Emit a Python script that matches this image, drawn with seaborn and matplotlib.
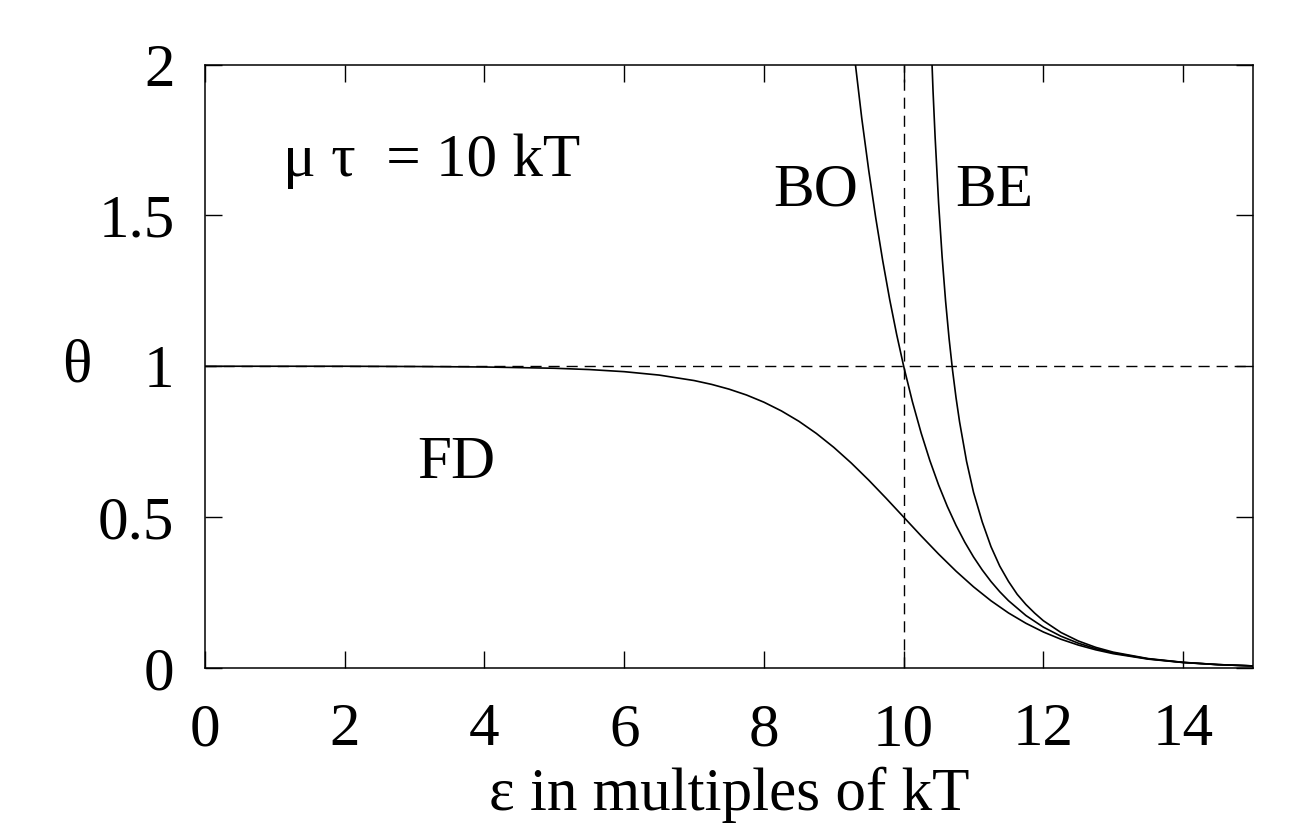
import matplotlib
matplotlib.use("Agg")
import matplotlib.pyplot as plt
import seaborn as sns
import pandas as pd

# values
fd_x = [0, 1, 2, 3, 4, 5, 5.5, 6, 6.5, 7, 7.25, 7.5, 7.75, 8, 8.25, 8.5, 8.75,
        9, 9.25, 9.5, 9.75, 10, 10.25, 10.5, 10.75, 11, 11.25, 11.5, 11.75,
        12, 12.25, 12.5, 12.75, 13, 13.5, 14, 14.5, 15]
fd_y = [1.0, 1.0, 1.0, 0.9991, 0.9975, 0.9933, 0.989, 0.982, 0.9707, 0.9526,
        0.9399, 0.9241, 0.9047, 0.8808, 0.8519, 0.8176, 0.7773, 0.7311, 0.6792,
        0.6225, 0.5622, 0.5, 0.4378, 0.3775, 0.3208, 0.2689, 0.2227, 0.1824,
        0.1481, 0.1192, 0.0953, 0.0759, 0.0601, 0.0474, 0.0293, 0.018, 0.011,
        0.0067]

bo_x = [9.25, 9.4, 9.5, 9.6, 9.7, 9.8, 9.9, 10, 10.125, 10.25, 10.375, 10.5,
        10.625, 10.75, 10.875, 11, 11.125, 11.25, 11.375, 11.5, 11.75, 12,
        12.25, 12.5, 12.75, 13, 13.5, 14, 14.5, 15]
bo_y = [2.117, 1.822, 1.649, 1.492, 1.35, 1.221, 1.105, 1.0, 0.8825, 0.7788,
        0.6873, 0.6065, 0.5353, 0.4724, 0.4169, 0.3679, 0.3247, 0.2865, 0.2528,
        0.2231, 0.1738, 0.1353, 0.1054, 0.0821, 0.0639, 0.0498, 0.0302, 0.0183,
        0.0111, 0.0067]

be_x = [10.38, 10.42, 10.45, 10.5, 10.55, 10.6, 10.65, 10.7, 10.75, 10.8,
        10.9, 11, 11.125, 11.25, 11.375, 11.5, 11.625, 11.75, 11.875, 12,
        12.25, 12.5, 12.75, 13, 13.5, 14, 14.5, 15]
be_y = [2.163, 1.914, 1.76, 1.541, 1.364, 1.216, 1.092, 0.986, 0.895, 0.816,
        0.685, 0.582, 0.4837, 0.402, 0.3377, 0.287, 0.2441, 0.2103, 0.1818,
        0.1565, 0.1178, 0.0894, 0.0683, 0.0524, 0.0311, 0.0187, 0.0112, 0.0068]

x_ticks = [0, 2, 4, 6, 8, 10, 12, 14]
y_ticks = [0, 0.5, 1, 1.5, 2]
y_tick_labels = ["0", "0.5", "1", "1.5", "2"]

sns.set_style("ticks")
plt.rcParams["font.family"] = ["Liberation Serif", "DejaVu Serif"]
plt.rcParams["text.color"] = "black"
plt.rcParams["axes.labelcolor"] = "black"

fig = plt.figure(figsize=(12.92, 8.27), dpi=100)
ax = fig.add_axes([0.1587, 0.1923, 0.8111, 0.7297])

for xs, ys in [(fd_x, fd_y), (bo_x, bo_y), (be_x, be_y)]:
    df = pd.DataFrame({"e": xs, "theta": ys})
    sns.lineplot(data=df, x="e", y="theta", color="black", linewidth=1.2,
                 estimator=None, sort=False, ax=ax)

ax.axhline(1, color="black", linewidth=1.0, dashes=(8, 5))
ax.axvline(10, color="black", linewidth=1.0, dashes=(8, 5))

ax.set_xlim(0, 15)
ax.set_ylim(0, 2)
ax.set_xticks(x_ticks)
ax.set_yticks(y_ticks)
ax.set_yticklabels(y_tick_labels)
ax.tick_params(direction="in", length=12, width=1, labelsize=44, pad=22,
               top=True, right=True, colors="black")
ax.tick_params(axis="x", pad=25)
for s in ax.spines.values():
    s.set_visible(True)
    s.set_linewidth(1.1)
    s.set_color("black")

ax.set_xlabel("ε in multiples of kT", fontsize=44, labelpad=6)
ax.set_ylabel("")
fig.text(77 / 1292, 1 - 367 / 827, "θ", fontsize=44, ha="center", va="center")

ax.text(1.12, 1.68, "μ τ  = 10 kT", fontsize=44, ha="left", va="center")
ax.text(8.74, 1.58, "BO", fontsize=44, ha="center", va="center")
ax.text(11.3, 1.58, "BE", fontsize=44, ha="center", va="center")
ax.text(3.59, 0.68, "FD", fontsize=44, ha="center", va="center")

fig.savefig("out.png", dpi=100)
